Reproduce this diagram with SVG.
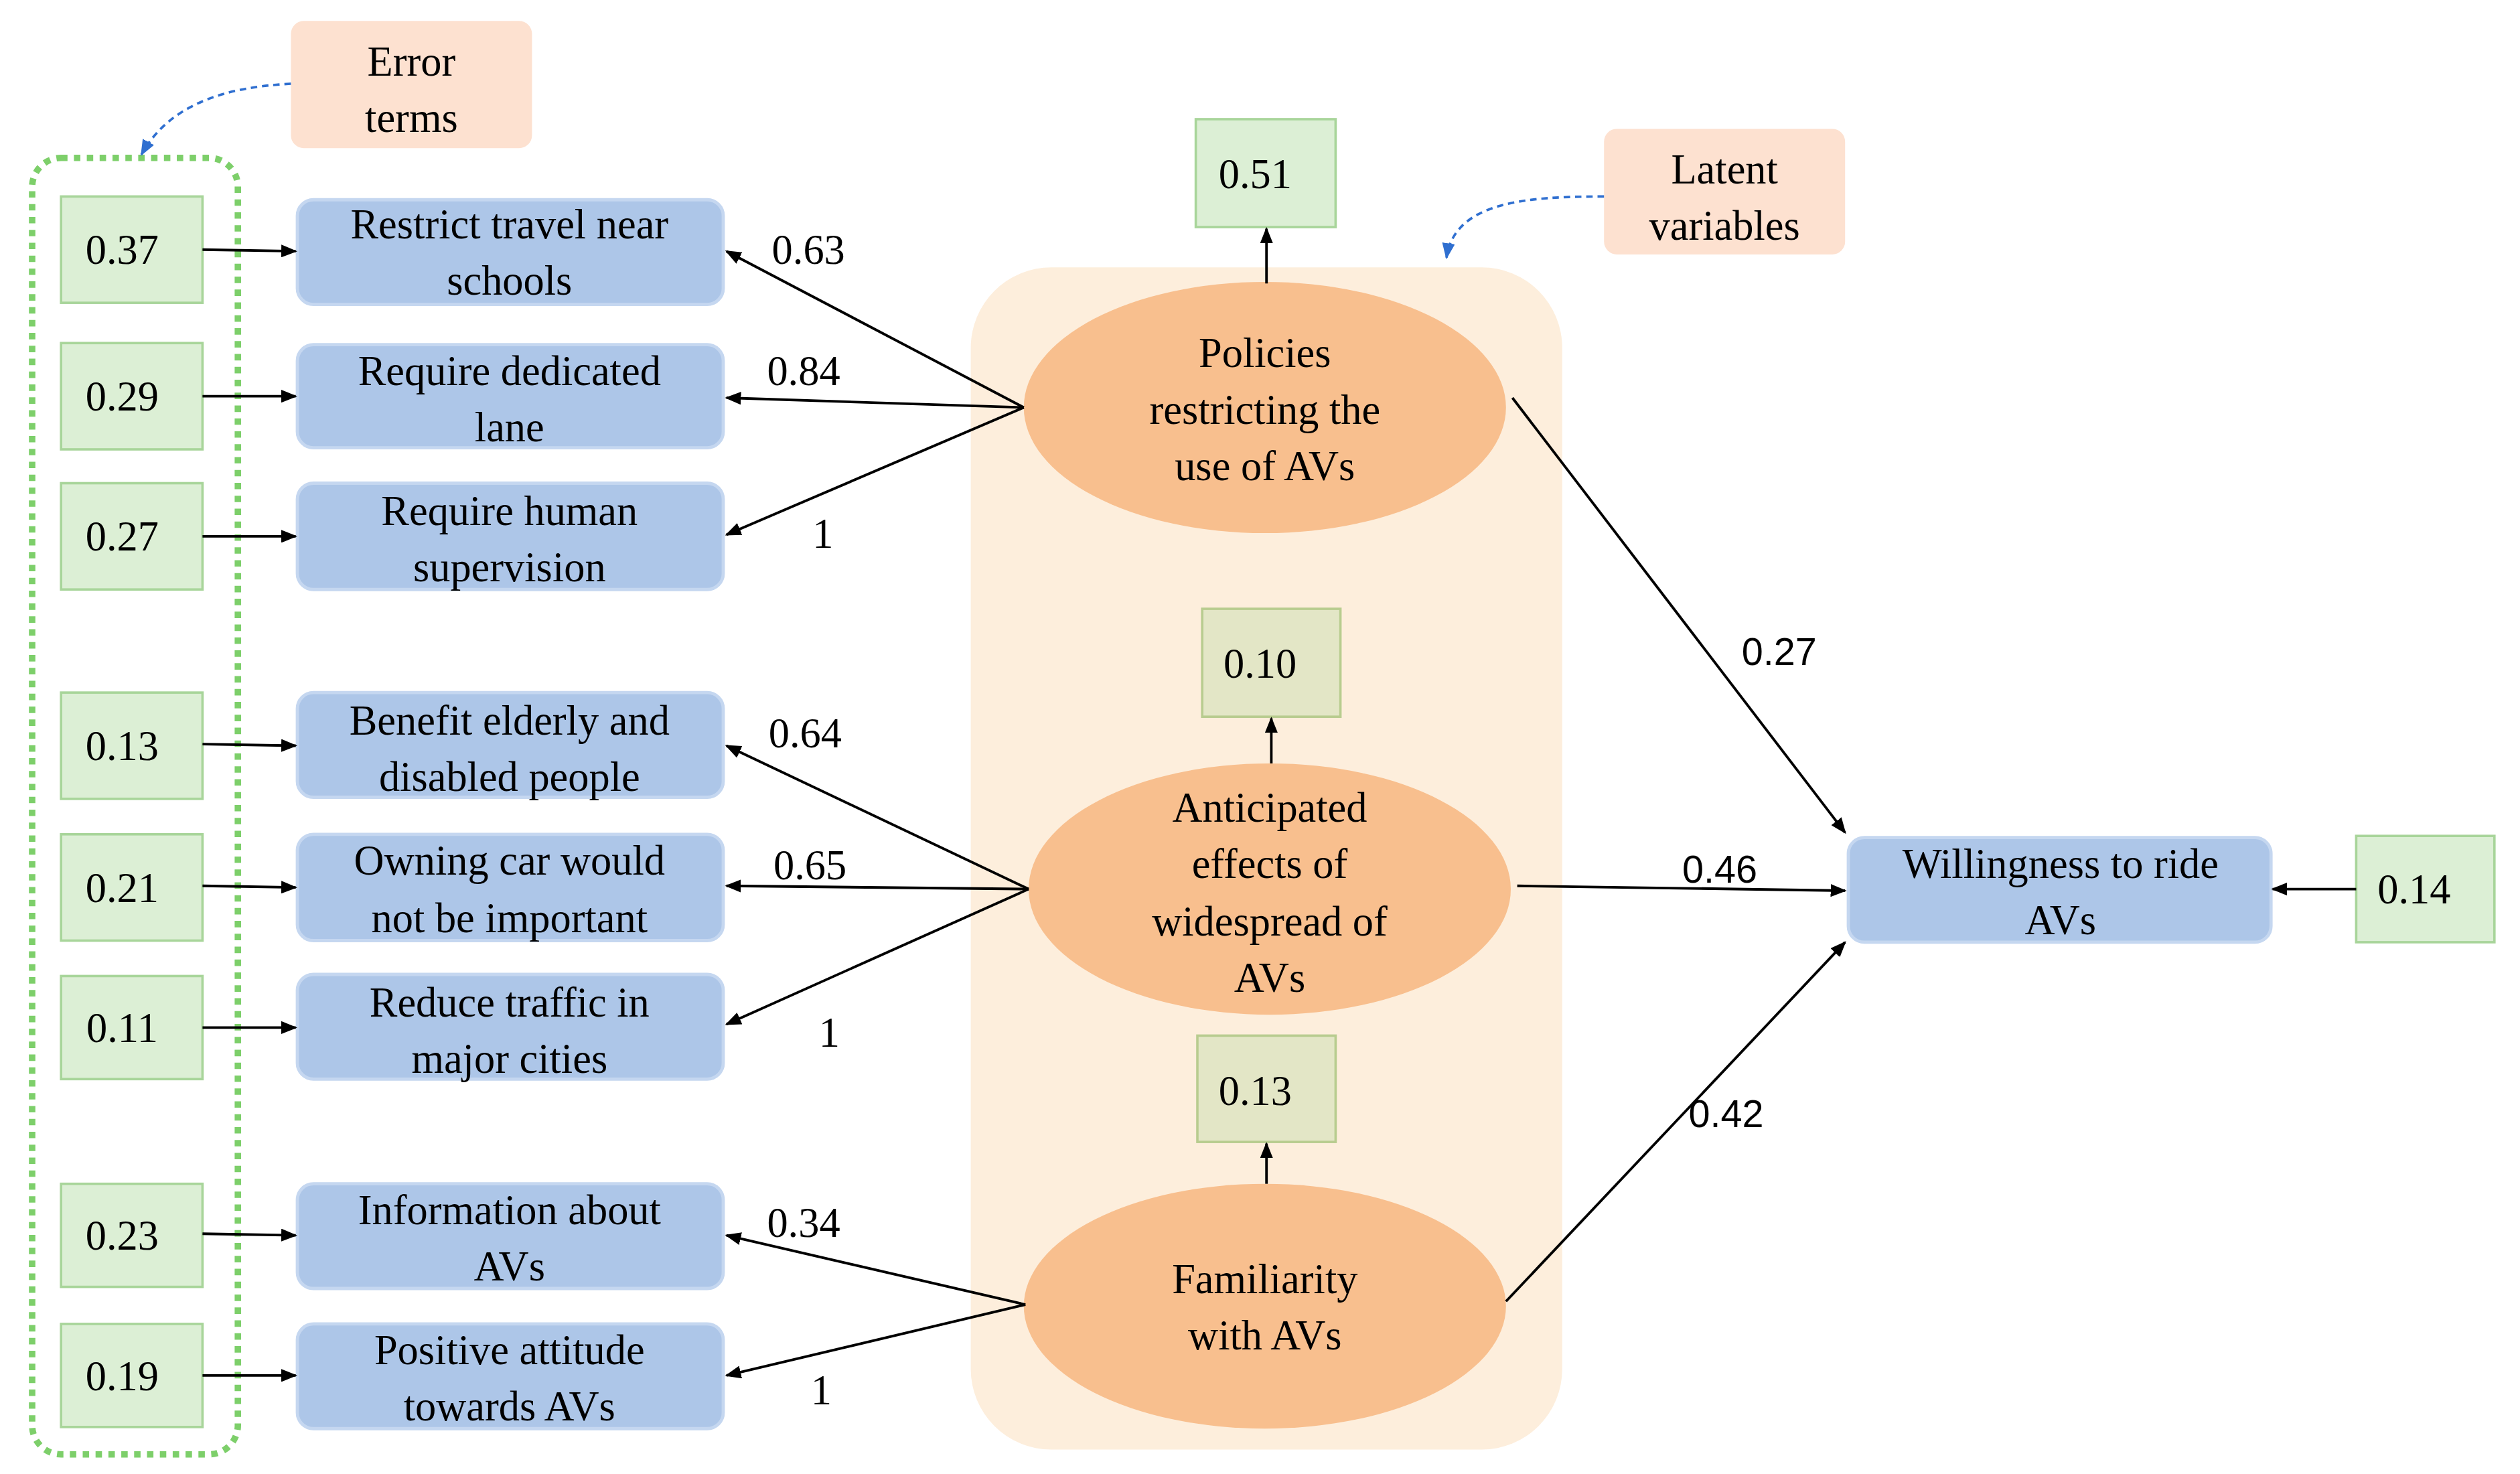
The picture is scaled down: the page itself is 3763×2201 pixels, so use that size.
<svg xmlns="http://www.w3.org/2000/svg" width="3763" height="2201" viewBox="0 0 3763 2201">
<defs>
<marker id="ah" markerWidth="10" markerHeight="8" refX="9" refY="4" orient="auto" markerUnits="userSpaceOnUse"><path d="M0,0 L10,4 L0,8 Z" fill="#000"/></marker>
<marker id="bh" markerWidth="10" markerHeight="8" refX="9" refY="4" orient="auto" markerUnits="userSpaceOnUse"><path d="M0,0 L10,4 L0,8 Z" fill="#2f6fd0"/></marker>
<style>
.t{font-family:"Liberation Serif",serif;font-size:26px;fill:#000;text-anchor:middle}
.a{font-family:"Liberation Sans",sans-serif;font-size:24px;fill:#000;text-anchor:middle}
.g{fill:#dcefd5;stroke:#a8d59a;stroke-width:1.5}
.o{fill:#e3e6c6;stroke:#b8cc8f;stroke-width:1.5}
.b{fill:#adc6e8;stroke:#c5d7f0;stroke-width:2}
.e{fill:#f8bf8e}
.p{fill:#fde1d0}
.c{stroke:#000;stroke-width:1.6;fill:none;marker-end:url(#ah)}
</style>
</defs>
<rect width="3763" height="2201" fill="#fff"/>
<g transform="scale(2.4,2.405)">
<rect x="604" y="166" width="368" height="734" rx="50" fill="#fdeedc"/>
<g id="err-label"><rect class="p" x="181" y="13" width="150" height="79" rx="8"/><text class="t" x="256" y="47">Error</text><text class="t" x="256" y="82">terms</text></g>
<g id="lat-label"><rect class="p" x="998" y="80" width="150" height="78" rx="8"/><text class="t" x="1073" y="114">Latent</text><text class="t" x="1073" y="149">variables</text></g>
<rect id="err-group" x="20" y="98" width="128" height="805" rx="18" fill="none" stroke="#7dcf6a" stroke-width="4" stroke-dasharray="4,4"/>
<g id="e1"><rect class="g" x="38" y="122" width="88" height="66"/><text class="t" x="76" y="164">0.37</text></g>
<g id="e2"><rect class="g" x="38" y="213" width="88" height="66"/><text class="t" x="76" y="255">0.29</text></g>
<g id="e3"><rect class="g" x="38" y="300" width="88" height="66"/><text class="t" x="76" y="342">0.27</text></g>
<g id="e4"><rect class="g" x="38" y="430" width="88" height="66"/><text class="t" x="76" y="472">0.13</text></g>
<g id="e5"><rect class="g" x="38" y="518" width="88" height="66"/><text class="t" x="76" y="560">0.21</text></g>
<g id="e6"><rect class="g" x="38" y="606" width="88" height="64"/><text class="t" x="76" y="647">0.11</text></g>
<g id="e7"><rect class="g" x="38" y="735" width="88" height="64"/><text class="t" x="76" y="776">0.23</text></g>
<g id="e8"><rect class="g" x="38" y="822" width="88" height="64"/><text class="t" x="76" y="863">0.19</text></g>
<g id="i1"><rect class="b" x="185" y="124" width="265" height="65" rx="10"/><text class="t" x="317" y="148">Restrict  travel  near</text><text class="t" x="317" y="183">schools</text></g>
<g id="i2"><rect class="b" x="185" y="214" width="265" height="64" rx="10"/><text class="t" x="317" y="239">Require  dedicated</text><text class="t" x="317" y="274">lane</text></g>
<g id="i3"><rect class="b" x="185" y="300" width="265" height="66" rx="10"/><text class="t" x="317" y="326">Require  human</text><text class="t" x="317" y="361">supervision</text></g>
<g id="i4"><rect class="b" x="185" y="430" width="265" height="65" rx="10"/><text class="t" x="317" y="456">Benefit  elderly  and</text><text class="t" x="317" y="491">disabled  people</text></g>
<g id="i5"><rect class="b" x="185" y="518" width="265" height="66" rx="10"/><text class="t" x="317" y="543">Owning  car  would</text><text class="t" x="317" y="579">not  be  important</text></g>
<g id="i6"><rect class="b" x="185" y="605" width="265" height="65" rx="10"/><text class="t" x="317" y="631">Reduce  traffic  in</text><text class="t" x="317" y="666">major  cities</text></g>
<g id="i7"><rect class="b" x="185" y="735" width="265" height="65" rx="10"/><text class="t" x="317" y="760">Information  about</text><text class="t" x="317" y="795">AVs</text></g>
<g id="i8"><rect class="b" x="185" y="822" width="265" height="65" rx="10"/><text class="t" x="317" y="847">Positive  attitude</text><text class="t" x="317" y="882">towards  AVs</text></g>
<g id="l1"><ellipse class="e" cx="787" cy="253" rx="150" ry="78"/><text class="t" x="787" y="228">Policies</text><text class="t" x="787" y="263">restricting  the</text><text class="t" x="787" y="298">use  of  AVs</text></g>
<g id="l2"><ellipse class="e" cx="790" cy="552" rx="150" ry="78"/><text class="t" x="790" y="510">Anticipated</text><text class="t" x="790" y="545">effects  of</text><text class="t" x="790" y="581">widespread  of</text><text class="t" x="790" y="616">AVs</text></g>
<g id="l3"><ellipse class="e" cx="787" cy="811" rx="150" ry="76"/><text class="t" x="787" y="803">Familiarity</text><text class="t" x="787" y="838">with  AVs</text></g>
<g id="r1"><rect class="g" x="744" y="74" width="87" height="67"/><text class="t" x="781" y="117">0.51</text></g>
<g id="r2"><rect class="o" x="748" y="378" width="86" height="67"/><text class="t" x="784" y="421">0.10</text></g>
<g id="r3"><rect class="o" x="745" y="643" width="86" height="66"/><text class="t" x="781" y="686">0.13</text></g>
<g id="y"><rect class="b" x="1150" y="520" width="263" height="65" rx="10"/><text class="t" x="1282" y="545">Willingness  to ride</text><text class="t" x="1282" y="580">AVs</text></g>
<g id="r4"><rect class="g" x="1466" y="519" width="86" height="66"/><text class="t" x="1502" y="561">0.14</text></g>
<g id="connectors">
<line class="c" x1="126" y1="155" x2="184" y2="156"/>
<line class="c" x1="126" y1="246" x2="184" y2="246"/>
<line class="c" x1="126" y1="333" x2="184" y2="333"/>
<line class="c" x1="126" y1="462" x2="184" y2="463"/>
<line class="c" x1="126" y1="550" x2="184" y2="551"/>
<line class="c" x1="126" y1="638" x2="184" y2="638"/>
<line class="c" x1="126" y1="766" x2="184" y2="767"/>
<line class="c" x1="126" y1="854" x2="184" y2="854"/>
<line class="c" x1="637" y1="253" x2="452" y2="156"/>
<line class="c" x1="637" y1="253" x2="452" y2="247"/>
<line class="c" x1="637" y1="253" x2="452" y2="332"/>
<line class="c" x1="640" y1="552" x2="452" y2="463"/>
<line class="c" x1="640" y1="552" x2="452" y2="550"/>
<line class="c" x1="640" y1="552" x2="452" y2="636"/>
<line class="c" x1="638" y1="810" x2="452" y2="767"/>
<line class="c" x1="638" y1="810" x2="452" y2="854"/>
<line class="c" x1="788" y1="176" x2="788" y2="142"/>
<line class="c" x1="791" y1="474" x2="791" y2="446"/>
<line class="c" x1="788" y1="735" x2="788" y2="710"/>
<line class="c" x1="941" y1="247" x2="1148" y2="517"/>
<line class="c" x1="944" y1="550" x2="1148" y2="553"/>
<line class="c" x1="937" y1="808" x2="1148" y2="585"/>
<line class="c" x1="1466" y1="552" x2="1414" y2="552"/>
<path d="M181,52 C140,54 105,65 88,96" fill="none" stroke="#2f6fd0" stroke-width="1.5" stroke-dasharray="4,3" marker-end="url(#bh)"/>
<path d="M998,122 C950,122 905,125 900,160" fill="none" stroke="#2f6fd0" stroke-width="1.5" stroke-dasharray="4,3" marker-end="url(#bh)"/>
</g>
<text class="t" x="503" y="164">0.63</text>
<text class="t" x="500" y="239">0.84</text>
<text class="t" x="512" y="340">1</text>
<text class="t" x="501" y="464">0.64</text>
<text class="t" x="504" y="546">0.65</text>
<text class="t" x="516" y="650">1</text>
<text class="t" x="500" y="768">0.34</text>
<text class="t" x="511" y="872">1</text>
<text class="a" x="1107" y="413">0.27</text>
<text class="a" x="1070" y="548">0.46</text>
<text class="a" x="1074" y="700">0.42</text>
</g>
</svg>
